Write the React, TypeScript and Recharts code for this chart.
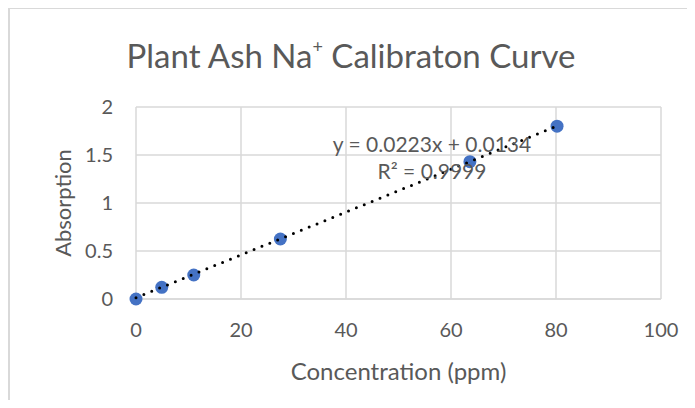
import { ScatterChart, Scatter, XAxis, YAxis, CartesianGrid, Label } from "recharts";

const concentration = [0, 4.9, 11, 27.5, 63.6, 80.2];
const absorption = [0, 0.122, 0.25, 0.625, 1.43, 1.8];
const xTicks = [0, 20, 40, 60, 80, 100];
const yTicks = [0, 0.5, 1, 1.5, 2];

// Excel linear trendline, as printed on the chart
const slope = 0.0223;
const intercept = 0.0134;
const rSquared = "0.9999";

const points = concentration.map((x, i) => ({x, y: absorption[i]}));
const trend = [Math.min(...concentration), Math.max(...concentration)].map((x) => ({
    x,
    y: slope * x + intercept,
}));

const FONT = "Lato, 'Open Sans', sans-serif";
const GREY = "#595959";
const GRID = "#d9d9d9";

const tickStyle = {fontSize: 20, fill: GREY, fontFamily: FONT};

const YTitle = ({viewBox}: any) => {
    const cx = viewBox.x - 14;
    const cy = viewBox.y + viewBox.height / 2;
    return (
        <text x={cx} y={cy} transform={`rotate(-90 ${cx} ${cy})`} textAnchor="middle"
              dominantBaseline="central" fill={GREY} fontSize={22} fontFamily={FONT}>
            Absorption
        </text>
    );
};

const XTitle = ({viewBox}: any) => {
    const cx = viewBox.x + viewBox.width / 2;
    const cy = viewBox.y + 71;
    return (
        <text x={cx} y={cy} textAnchor="middle" dominantBaseline="central" fill={GREY}
              fontSize={24} fontFamily={FONT}>
            Concentration (ppm)
        </text>
    );
};

const Dot = (p: any) => <circle cx={p.cx} cy={p.cy} r={6.5} fill="#4472C4"/>;
const NoDot = () => <g/>;

export default function App() {
    return (
        <div style={{position: "relative", width: 687, height: 392, overflow: "hidden"}}>
            <div style={{
                position: "absolute", left: 0, top: -1, width: 760, height: 500,
                border: `2px solid ${GRID}`, boxSizing: "border-box",
            }}/>
            <div style={{position: "absolute", left: -8, top: -8}}>
                <ScatterChart width={695} height={408} margin={{top: 107, right: 34, bottom: 79, left: 76}}>
                    <CartesianGrid stroke={GRID} strokeWidth={1.5}/>
                    <XAxis type="number" dataKey="x" domain={[0, 100]} ticks={xTicks} height={30}
                           axisLine={{stroke: GRID, strokeWidth: 1.5}} tickLine={false} tickSize={0}
                           tickMargin={24} tick={tickStyle}>
                        <Label content={XTitle}/>
                    </XAxis>
                    <YAxis type="number" dataKey="y" domain={[0, 2]} ticks={yTicks} width={60}
                           axisLine={false} tickLine={false} tickSize={0} tickMargin={23} tick={tickStyle}>
                        <Label content={YTitle}/>
                    </YAxis>
                    <Scatter data={points} shape={Dot} isAnimationActive={false}/>
                    <Scatter data={trend} shape={NoDot} isAnimationActive={false}
                             line={{stroke: "#000", strokeWidth: 3, strokeDasharray: "0 8.5", strokeLinecap: "round"}}/>
                </ScatterChart>
            </div>
            <div style={{
                position: "absolute", left: 351 - 8 - 300, top: 35 - 8, width: 600, textAlign: "center",
                fontFamily: FONT, fontSize: 33, color: GREY, lineHeight: "40px",
            }}>
                Plant Ash Na<sup style={{fontSize: 18, verticalAlign: "top", lineHeight: "22px"}}>+</sup> Calibraton Curve
            </div>
            <div style={{
                position: "absolute", left: 432 - 8 - 150, top: 130 - 8, width: 300, textAlign: "center",
                fontFamily: FONT, fontSize: 21, color: GREY, lineHeight: "27px",
            }}>
                <div>y = {slope}x + {intercept}</div>
                <div>R² = {rSquared}</div>
            </div>
        </div>
    );
}
